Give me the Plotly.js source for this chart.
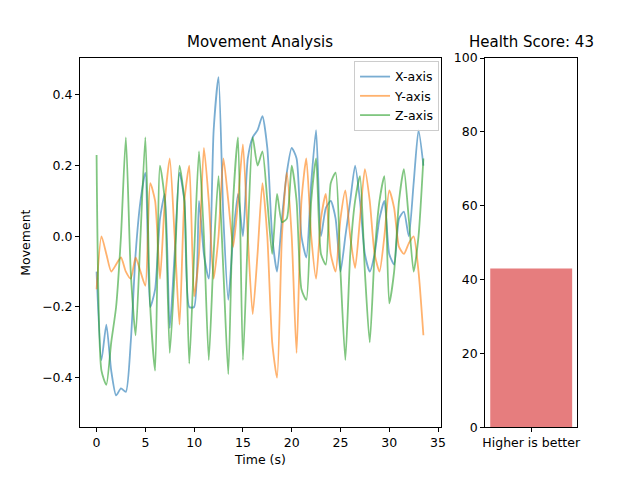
<!DOCTYPE html>
<html>
<head>
<script src="https://cdn.plot.ly/plotly-3.0.1.min.js"></script>
<style>body{margin:0}#chart{width:640px;height:480px}</style>
</head>
<body>
<div id="chart"></div>
<script>
var times = [];
for (var iii = 0; iii < 68; iii++) { times.push(iii * 0.5); }

var xAxisVals = [-0.1,-0.35,-0.25,-0.38,-0.45,-0.43,-0.44,-0.3,-0.05,0.1,0.18,-0.2,-0.15,0.05,0.12,-0.26,
    -0.05,0.18,0.1,-0.2,-0.2,0.1,-0.05,-0.12,0.3,0.45,0.05,-0.18,0.0,0.12,0.0,0.22,
    0.28,0.3,0.34,0.25,0.0,-0.1,0.05,0.18,0.25,0.22,0.0,-0.06,0.15,0.3,0.0,0.08,
    0.1,0.05,-0.1,0.0,0.1,0.2,0.1,-0.05,-0.1,-0.05,0.05,0.1,-0.05,-0.08,0.05,0.07,
    0.0,0.15,0.3,0.2];
var yAxisVals = [-0.15,0.0,-0.05,-0.1,-0.08,-0.06,-0.1,-0.12,-0.06,-0.1,-0.14,0.15,0.1,-0.12,0.1,0.22,
    0.0,-0.25,0.1,0.2,-0.17,-0.05,0.25,0.1,-0.12,0.0,0.22,0.1,-0.03,0.1,0.26,0.0,
    -0.22,-0.05,0.15,0.0,-0.3,-0.4,0.0,0.18,0.0,-0.33,0.1,0.22,0.0,-0.12,0.05,0.12,
    -0.05,-0.1,0.05,0.13,0.0,-0.09,0.05,0.19,0.1,-0.05,-0.1,0.0,0.13,0.08,-0.03,-0.05,
    -0.02,0.0,-0.1,-0.28];
var zAxisVals = [0.23,-0.38,-0.42,-0.3,-0.2,0.0,0.28,-0.1,-0.28,0.0,0.28,-0.2,-0.38,0.2,0.1,-0.33,
    -0.1,0.2,0.1,-0.36,-0.05,0.24,0.0,-0.35,-0.05,0.17,-0.1,-0.39,0.1,0.28,-0.35,0.0,
    0.28,0.2,0.24,0.1,-0.05,0.12,0.04,0.05,0.2,0.1,-0.15,-0.18,0.1,0.22,-0.05,-0.08,
    0.15,0.18,-0.1,-0.35,-0.05,0.1,0.17,-0.1,-0.3,-0.05,0.1,0.17,-0.19,-0.1,0.1,0.19,
    0.05,-0.1,0.0,0.22];
var scoreLabel = ['Higher is better'];
var scoreValue = [43];

var font = {family: 'DejaVu Sans', size: 12.5, color: '#000'};
function line(name, y, color)
{
    return {x: times, y: y, name: name, type: 'scatter', mode: 'lines',
        line: {color: color, width: 1.8, shape: 'spline', smoothing: 0.6}, opacity: 0.6, xaxis: 'x', yaxis: 'y'};
}
var traces = [
    line('X-axis', xAxisVals, '#1f77b4'),
    line('Y-axis', yAxisVals, '#ff7f0e'),
    line('Z-axis', zAxisVals, '#2ca02c'),
    {x: scoreLabel, y: scoreValue, type: 'bar', marker: {color: 'rgba(214,39,40,0.6)'},
        width: 0.8, showlegend: false, xaxis: 'x2', yaxis: 'y2'}
];
var axStyle = {showline: true, mirror: true, linecolor: '#000', linewidth: 1, ticks: 'outside',
    ticklen: 4, tickcolor: '#000', showgrid: false, zeroline: false, tickfont: font};
var layout = {
    width: 640, height: 480, margin: {l: 0, r: 0, t: 0, b: 0},
    paper_bgcolor: '#fff', plot_bgcolor: '#fff', font: font,
    xaxis: Object.assign({}, axStyle, {domain: [0.125, 0.689], range: [-1.7, 35.3],
        tickvals: [0,5,10,15,20,25,30,35], title: {text: 'Time (s)', font: font, standoff: 6}}),
    yaxis: Object.assign({}, axStyle, {domain: [0.110, 0.879], range: [-0.54, 0.504],
        tickvals: [-0.4,-0.2,0,0.2,0.4], ticktext: ['\u22120.4','\u22120.2','0.0','0.2','0.4'],
        title: {text: 'Movement', font: font, standoff: 8}}),
    xaxis2: Object.assign({}, axStyle, {domain: [0.758, 0.902], anchor: 'y2', range: [-0.45, 0.45]}),
    yaxis2: Object.assign({}, axStyle, {domain: [0.110, 0.879], anchor: 'x2', range: [0, 100],
        tickvals: [0,20,40,60,80,100]}),
    legend: {x: 0.686, y: 0.873, xanchor: 'right', yanchor: 'top', bgcolor: 'rgba(255,255,255,0.8)',
        bordercolor: '#ccc', borderwidth: 1, font: {family: 'DejaVu Sans', size: 12.5},
        itemwidth: 30, tracegroupgap: 0},
    annotations: [
        {text: 'Movement Analysis', x: 0.407, y: 0.89, xref: 'paper', yref: 'paper',
            xanchor: 'center', yanchor: 'bottom', showarrow: false, font: {family: 'DejaVu Sans', size: 15}},
        {text: 'Health Score: 43', x: 0.830, y: 0.89, xref: 'paper', yref: 'paper',
            xanchor: 'center', yanchor: 'bottom', showarrow: false, font: {family: 'DejaVu Sans', size: 15}}
    ]
};
Plotly.newPlot('chart', traces, layout, {displayModeBar: false, staticPlot: true});
</script>
</body>
</html>
